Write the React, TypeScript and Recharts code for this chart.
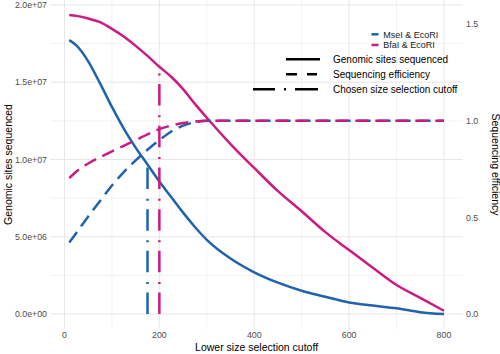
import React from 'react';
import {
  LineChart,
  Line,
  XAxis,
  YAxis,
  CartesianGrid,
  ReferenceLine,
} from 'recharts';

// Lower size selection cutoff (bp)
const cutoffs = [10, 25, 50, 75, 100, 125, 150, 175, 200, 225, 250, 275, 300, 350, 400, 450, 500, 550, 600, 650, 700, 750, 800];

// Genomic sites sequenced
const mseiSites = [17720000, 17380000, 16350000, 14920000, 13400000, 12000000, 10770000, 9680000, 8580000, 7570000, 6560000, 5630000, 4800000, 3590000, 2700000, 2030000, 1510000, 1120000, 750000, 550000, 370000, 120000, 0];
const bfaiSites = [19350000, 19290000, 19120000, 18880000, 18450000, 17950000, 17350000, 16700000, 16000000, 15350000, 14550000, 13600000, 12700000, 11000000, 9450000, 7950000, 6650000, 5300000, 4140000, 3000000, 1880000, 1050000, 210000];

// Sequencing efficiency
const mseiEfficiency = [0.37, 0.42, 0.505, 0.585, 0.665, 0.735, 0.795, 0.85, 0.9, 0.945, 0.975, 0.993, 1, 1, 1, 1, 1, 1, 1, 1, 1, 1, 1];
const bfaiEfficiency = [0.703, 0.738, 0.779, 0.812, 0.842, 0.871, 0.9, 0.93, 0.957, 0.976, 0.989, 0.997, 1, 1, 1, 1, 1, 1, 1, 1, 1, 1, 1];

// Chosen size selection cutoff per enzyme pair, and the sites sequenced there
const chosenCutoffs = [175, 200];
const chosenSites = [9680000, 16000000];

const enzymeLabels = ['MseI & EcoRI', 'BfaI & EcoRI'];
const lineTypeLabels = ['Genomic sites sequenced', 'Sequencing efficiency', 'Chosen size selection cutoff'];

const xTicks = [0, 200, 400, 600, 800];
const xMinor = [100, 300, 500, 700];
const leftTicks = [0, 5000000, 10000000, 15000000, 20000000];
const leftMinor = [2500000, 7500000, 12500000, 17500000];
const rightTicks = [0, 0.5, 1, 1.5];

const BLUE = '#1f63ad';
const PINK = '#cc1a84';
const COLORS = [BLUE, PINK];
const FONT = '"Liberation Sans", Arial, sans-serif';
const DASHED = '13 7';
const DOTDASH = '21.5 8.5 2 9.7';

// 1.0 efficiency sits at 1.25e7 sites on the left scale
const SEC_SCALE = 12500000;
const LEFT_DOMAIN: [number, number] = [-967500, 20317500];
const RIGHT_DOMAIN: [number, number] = [LEFT_DOMAIN[0] / SEC_SCALE, LEFT_DOMAIN[1] / SEC_SCALE];

const data = cutoffs.map((c, i) => ({
  cutoff: c,
  mseiSites: mseiSites[i],
  bfaiSites: bfaiSites[i],
  mseiEff: mseiEfficiency[i],
  bfaiEff: bfaiEfficiency[i],
}));

function fmtSci(v: number): string {
  const [m, e] = v.toExponential(1).split('e');
  const sign = e[0] === '-' ? '-' : '+';
  return `${m}e${sign}${e.replace(/[+-]/, '').padStart(2, '0')}`;
}

const tickStyle = { fill: '#4d4d4d', fontSize: 8.8, fontFamily: FONT };
const titleStyle = { fill: '#000', fontSize: 10.5, fontFamily: FONT };

function Legend() {
  return (
    <svg
      width={500}
      height={354}
      style={{ position: 'absolute', left: 0, top: 0, pointerEvents: 'none' }}
    >
      {enzymeLabels.map((label, i) => (
        <g key={label}>
          <line x1={371.5} x2={378.5} y1={34.3 + i * 10.7} y2={34.3 + i * 10.7} stroke={COLORS[i]} strokeWidth={2.5} />
          <text x={383.3} y={37.5 + i * 10.7} fontSize={9} fontFamily={FONT} fill="#1a1a1a">
            {label}
          </text>
        </g>
      ))}
      <line x1={286} x2={320} y1={59.3} y2={59.3} stroke="#000" strokeWidth={2.5} />
      <line x1={286} x2={317} y1={74.3} y2={74.3} stroke="#000" strokeWidth={2.5} strokeDasharray="11 10" />
      <line x1={253} x2={318} y1={89.3} y2={89.3} stroke="#000" strokeWidth={2.5} strokeDasharray="22 9 2 9 23" />
      {lineTypeLabels.map((label, i) => (
        <text key={label} x={333} y={62.9 + i * 15} fontSize={10} fontFamily={FONT} fill="#000">
          {label}
        </text>
      ))}
    </svg>
  );
}

export default function App() {
  return (
    <div style={{ position: 'absolute', left: 0, top: 0, width: 500, height: 354 }}>
      <LineChart width={500} height={354} data={data} margin={{ top: 0, right: 0, bottom: 0, left: 0 }}>
        <CartesianGrid
          xAxisId="x"
          yAxisId="left"
          horizontalValues={leftMinor}
          verticalValues={xMinor}
          stroke="#ececec"
          strokeWidth={0.7}
        />
        <CartesianGrid
          xAxisId="x"
          yAxisId="left"
          horizontalValues={leftTicks}
          verticalValues={xTicks}
          stroke="#e6e6e6"
          strokeWidth={1}
        />
        <XAxis
          xAxisId="x"
          dataKey="cutoff"
          type="number"
          domain={[-29.5, 839.5]}
          ticks={xTicks}
          allowDataOverflow
          height={25}
          tickSize={0}
          tickMargin={3}
          axisLine={false}
          tickLine={false}
          tick={tickStyle}
          label={{
            content: () => (
              <text x={256.6} y={350.5} textAnchor="middle" style={titleStyle}>
                Lower size selection cutoff
              </text>
            ),
          }}
        />
        <YAxis
          yAxisId="left"
          type="number"
          domain={LEFT_DOMAIN}
          ticks={leftTicks}
          allowDataOverflow
          width={50.5}
          tickSize={0}
          tickMargin={3.5}
          axisLine={false}
          tickLine={false}
          tick={tickStyle}
          tickFormatter={fmtSci}
          label={{
            content: () => (
              <text x={11.5} y={164.5} textAnchor="middle" transform="rotate(-90 11.5 164.5)" style={titleStyle}>
                Genomic sites sequenced
              </text>
            ),
          }}
        />
        <YAxis
          yAxisId="right"
          orientation="right"
          type="number"
          domain={RIGHT_DOMAIN}
          ticks={rightTicks}
          allowDataOverflow
          width={37.3}
          tickSize={0}
          tickMargin={3.3}
          axisLine={false}
          tickLine={false}
          tick={tickStyle}
          tickFormatter={(v: number) => v.toFixed(1)}
          label={{
            content: () => (
              <text x={491.5} y={164.5} textAnchor="middle" transform="rotate(90 491.5 164.5)" style={titleStyle}>
                Sequencing efficiency
              </text>
            ),
          }}
        />
        <Line xAxisId="x" yAxisId="left" type="monotone" dataKey="mseiSites" stroke={BLUE} strokeWidth={2.5} dot={false} isAnimationActive={false} />
        <Line xAxisId="x" yAxisId="left" type="monotone" dataKey="bfaiSites" stroke={PINK} strokeWidth={2.5} dot={false} isAnimationActive={false} />
        <Line xAxisId="x" yAxisId="right" type="monotone" dataKey="mseiEff" stroke={BLUE} strokeWidth={2.5} strokeDasharray={DASHED} dot={false} isAnimationActive={false} />
        <Line xAxisId="x" yAxisId="right" type="monotone" dataKey="bfaiEff" stroke={PINK} strokeWidth={2.5} strokeDasharray={DASHED} dot={false} isAnimationActive={false} />
        {chosenCutoffs.map((c, i) => (
          <ReferenceLine
            key={c}
            xAxisId="x"
            yAxisId="left"
            segment={[{ x: c, y: 0 }, { x: c, y: chosenSites[i] }]}
            stroke={COLORS[i]}
            strokeWidth={2.5}
            strokeDasharray={DOTDASH}
          />
        ))}
      </LineChart>
      <Legend />
    </div>
  );
}
